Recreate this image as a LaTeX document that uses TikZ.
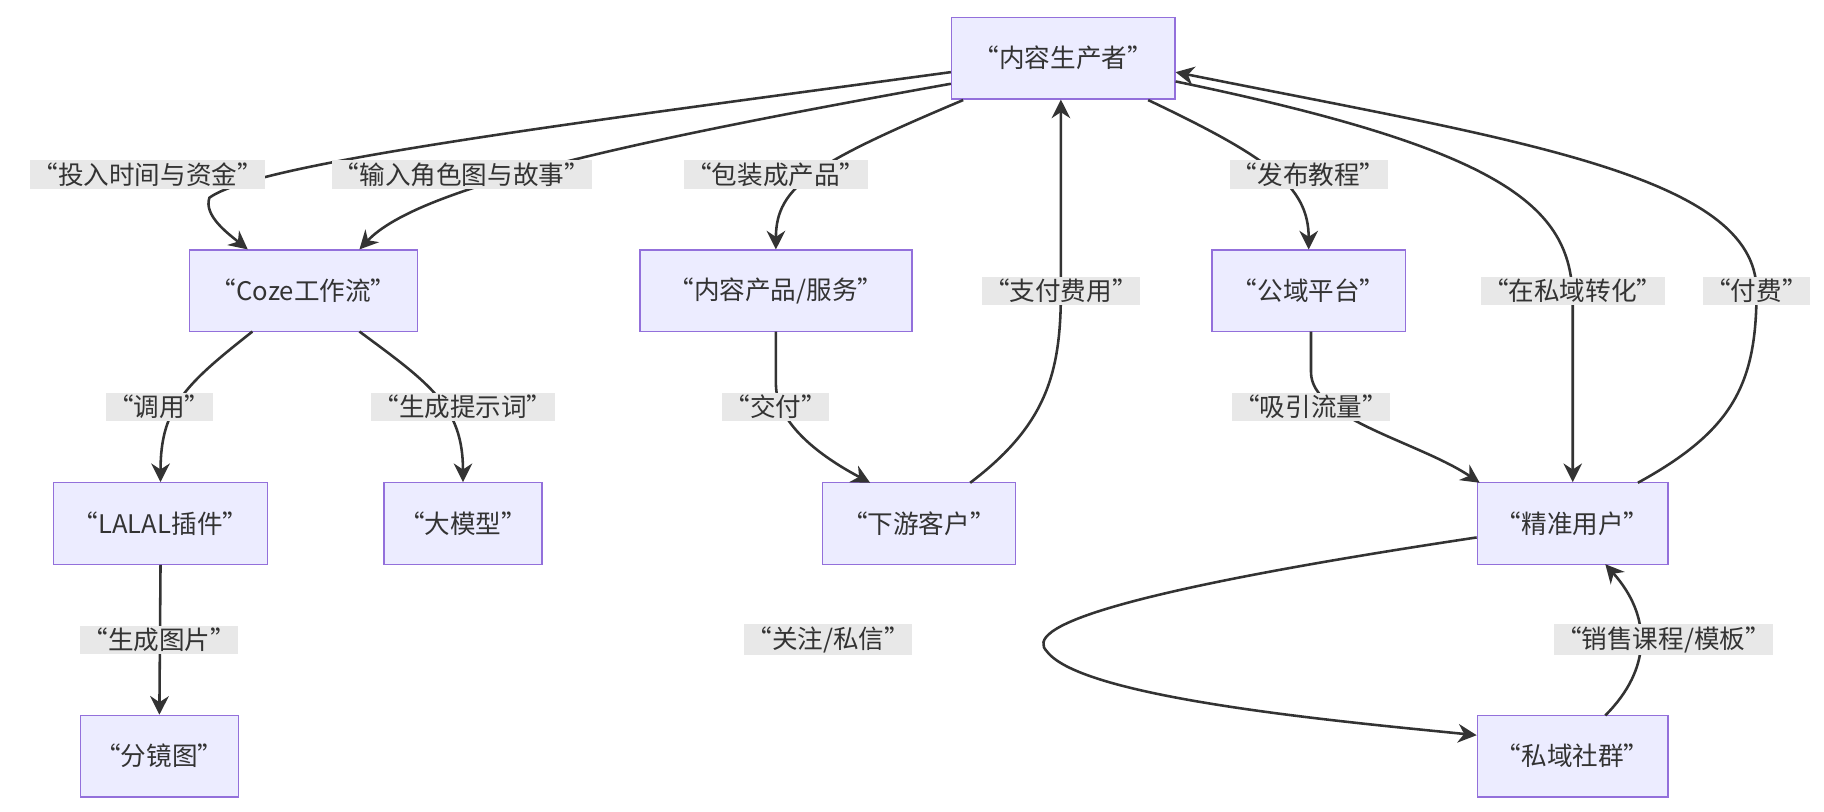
\documentclass[tikz,border=0pt]{standalone}
\usepackage{fontspec}
\setmainfont{Noto Sans CJK SC}
\usetikzlibrary{arrows.meta}
\definecolor{boxfill}{HTML}{ECECFF}
\definecolor{boxline}{HTML}{9370DB}
\definecolor{edge}{HTML}{333333}
\definecolor{lblbg}{HTML}{E8E8E8}
\tikzset{
  box/.style={draw=boxline, fill=boxfill, line width=0.6pt, minimum height=35pt, text=edge, font=\fontsize{11}{13}\selectfont},
  lbl/.style={fill=lblbg, inner sep=1pt, text=edge, font=\fontsize{11}{13}\selectfont},
  link/.style={draw=edge, line width=1.1pt, -{Stealth[length=8pt,width=8pt]}}
}
\begin{document}
\begin{tikzpicture}[x=0.5pt,y=-0.5pt]
    \useasboundingbox (0,0) rectangle (1568,698);

    % Nodos
    \node[box, minimum width=96pt]  (prod)  at (914,50)  {“内容生产者”};
    \node[box, minimum width=98pt]  (coze)  at (261,250) {“Coze工作流”};
    \node[box, minimum width=117pt] (serv)  at (667,250) {“内容产品/服务”};
    \node[box, minimum width=83pt]  (pub)   at (1125,250) {“公域平台”};
    \node[box, minimum width=92pt]  (lalal) at (138,450) {“LALAL插件”};
    \node[box, minimum width=68pt]  (llm)   at (398,450) {“大模型”};
    \node[box, minimum width=83pt]  (cli)   at (790,450) {“下游客户”};
    \node[box, minimum width=82pt]  (user)  at (1352,450) {“精准用户”};
    \node[box, minimum width=68pt]  (board) at (137,650) {“分镜图”};
    \node[box, minimum width=82pt]  (grp)   at (1352,650) {“私域社群”};

    % Puntos auxiliares
    \coordinate (c1) at (213,215);
    \coordinate (c2) at (309,215);

    % Conexiones
    \draw[link] (prod.west |- 0,62) .. controls (500,105) and (220,140) .. (180,170) .. controls (175,185) and (195,200) .. (coze.north -| c1);
    \draw[link] (prod.west |- 0,72) .. controls (550,120) and (360,160) .. (coze.north -| c2);
    \draw[link] (828,86) .. controls (700,140) and (667,160) .. (serv.north);
    \draw[link] (987,86) .. controls (1090,135) and (1125,160) .. (pub.north);
    \draw[link] (834,415) .. controls (900,365) and (912,320) .. (912,250) -- (prod.south -| 912,0);
    \draw[link] (prod.east |- 0,70) .. controls (1300,130) and (1352,180) .. (1352,260) -- (user.north);
    \draw[link] (1408,415) .. controls (1490,370) and (1510,330) .. (1510,250) .. controls (1510,150) and (1300,120) .. (prod.east |- 0,62);
    \draw[link] (217,285) .. controls (160,330) and (138,350) .. (lalal.north);
    \draw[link] (309,285) .. controls (370,330) and (398,350) .. (llm.north);
    \draw[link] (667,285) -- (667,330) .. controls (667,370) and (720,400) .. (748,415);
    \draw[link] (1127,285) -- (1127,320) .. controls (1127,360) and (1220,380) .. (1272,415);
    \draw[link] (lalal.south) -- (board.north);
    \draw[link] (user.west |- 0,462) .. controls (950,510) and (880,540) .. (900,560) .. controls (930,600) and (1150,620) .. (grp.west |- 0,632);
    \draw[link] (1380,615) .. controls (1420,575) and (1420,530) .. (1380,485);

    % Etiquetas
    \node[lbl] (l1)  at (127,150)  {“投入时间与资金”};
    \node[lbl] (l2)  at (397,150)  {“输入角色图与故事”};
    \node[lbl] (l3)  at (667,150)  {“包装成产品”};
    \node[lbl] (l4)  at (1125,150) {“发布教程”};
    \node[lbl] (l5)  at (912,250)  {“支付费用”};
    \node[lbl] (l6)  at (1352,250) {“在私域转化”};
    \node[lbl] (l7)  at (1510,250) {“付费”};
    \node[lbl] (l8)  at (137,350)  {“调用”};
    \node[lbl] (l9)  at (398,350)  {“生成提示词”};
    \node[lbl] (l10) at (667,350)  {“交付”};
    \node[lbl] (l11) at (1127,350) {“吸引流量”};
    \node[lbl] (l12) at (137,550)  {“生成图片”};
    \node[lbl] (l13) at (712,550)  {“关注/私信”};
    \node[lbl] (l14) at (1430,550) {“销售课程/模板”};
\end{tikzpicture}
\end{document}
